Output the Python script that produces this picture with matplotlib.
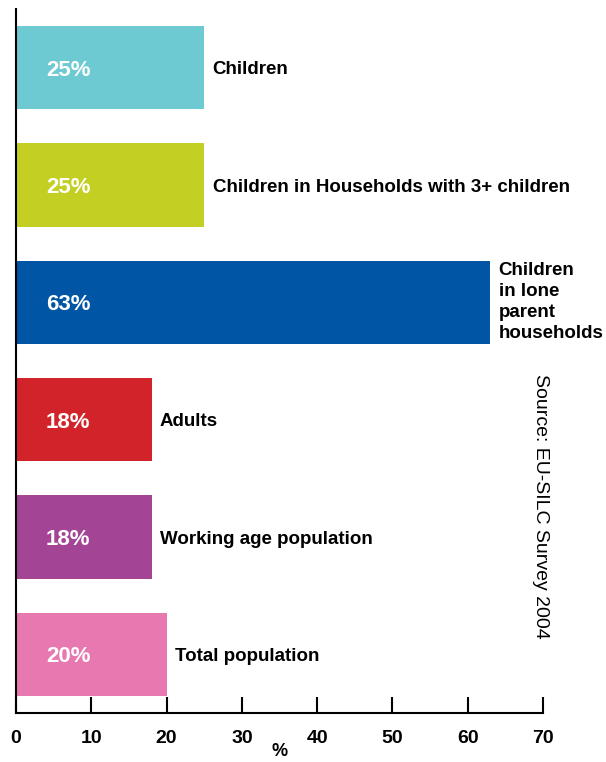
import matplotlib.pyplot as plt

plt.rcParams['font.family'] = ['Liberation Sans', 'DejaVu Sans']

# poverty risk by group (%)
groups = [
    "Children",
    "Children in Households with 3+ children",
    "Children\nin lone\nparent\nhouseholds",
    "Adults",
    "Working age population",
    "Total population",
]
rates = [25, 25, 63, 18, 18, 20]
colors = ["#6ECAD2", "#C3CF22", "#0055A5", "#D3232A", "#A34495", "#E879B0"]
xticks = [0, 10, 20, 30, 40, 50, 60, 70]

fig = plt.figure(figsize=(6.06, 7.62), dpi=100)
ax = fig.add_axes([16 / 606, 1 - 713 / 762, 527 / 606, 704 / 762])

pos = list(range(len(rates)))
ax.barh(pos, rates, height=0.71, color=colors)

for y, v, name in zip(pos, rates, groups):
    # value inside the bar
    ax.text(4.0, y, f"{v}%", color="white", fontsize=16, fontweight="bold",
            ha="left", va="center_baseline")
    # group name just past the end of the bar
    va = "center" if "\n" in name else "center_baseline"
    ax.annotate(name, (v, y), xytext=(6, 0), textcoords="offset points",
                fontsize=13.5, fontweight="bold", ha="left", va=va,
                linespacing=1.3)

ax.set_xlim(0, 70)
ax.set_ylim(5.5, -0.5)
ax.set_xticks(xticks)
ax.set_yticks([])
ax.tick_params(axis="x", direction="in", length=11.5, width=1.5, pad=12,
               labelsize=14)
for lab in ax.get_xticklabels():
    lab.set_fontweight("bold")
ax.set_xlabel("%", fontsize=13, fontweight="bold", labelpad=-3)

for s in ["top", "right"]:
    ax.spines[s].set_visible(False)
for s in ["left", "bottom"]:
    ax.spines[s].set_linewidth(1.5)

fig.text(540 / 606, 1 - 506 / 762, "Source: EU-SILC Survey 2004", rotation=270,
         fontsize=14, ha="center", va="center")

fig.savefig("out.png", dpi=100)
